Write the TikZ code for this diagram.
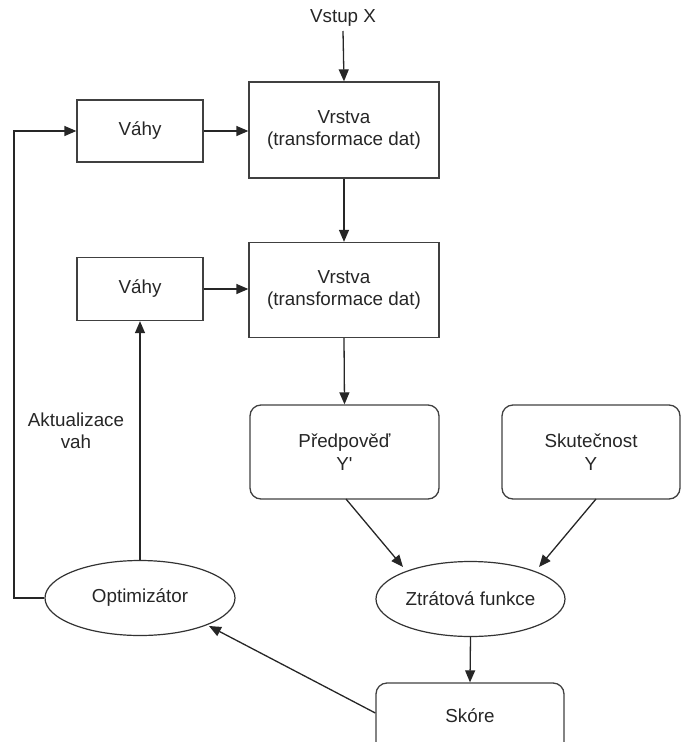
\documentclass[tikz,border=0pt]{standalone}
\usepackage{fontspec}
\setmainfont{Liberation Sans}
\usetikzlibrary{arrows.meta,shapes.geometric}
\begin{document}
\begin{tikzpicture}[x=1pt,y=-1pt,
  every node/.style={font=\fontsize{18.8}{22.5}\selectfont, align=center, text=black!85},
  sq/.style={draw=black!75, line width=1.3pt, rectangle, inner sep=0pt},
  rbox/.style={draw=black!75, line width=1.3pt, rectangle, rounded corners=11pt, inner sep=0pt},
  ell/.style={draw=black!80, line width=1.2pt, ellipse, inner sep=0pt},
  conn/.style={line width=1.3pt, draw=black!85, -{Triangle[length=12pt,width=10pt]}},
  plain/.style={line width=1.3pt, draw=black!85}]
\useasboundingbox (0,0) rectangle (681,742);
\clip (0,0) rectangle (681,742);
\node (in) at (343,18) {Vstup X};
\node[sq, minimum width=190pt, minimum height=96pt] (l1) at (344,130) {Vrstva\\(transformace dat)};
\node[sq, minimum width=126pt, minimum height=62pt] (w1) at (140,131) {Váhy};
\node[sq, minimum width=190pt, minimum height=95pt] (l2) at (344,290) {Vrstva\\(transformace dat)};
\node[sq, minimum width=126pt, minimum height=63pt] (w2) at (140,289) {Váhy};
\node[rbox, minimum width=189pt, minimum height=94pt] (pred) at (344.5,452) {Předpověď\\Y\textquotesingle};
\node[rbox, minimum width=178pt, minimum height=94pt] (real) at (591,452) {Skutečnost\\Y};
\node[ell, minimum width=189pt, minimum height=75pt] (loss) at (470.5,599) {Ztrátová funkce};
\node[ell, minimum width=190pt, minimum height=75pt] (opt) at (140,598) {Optimizátor};
\node[rbox, minimum width=188pt, minimum height=70pt] (score) at (470,718) {};
\node at (470,716) {Skóre};
\node (lbl) at (76,431) {Aktualizace\\vah};
\coordinate (inb) at (343,31);
\coordinate (c1) at (14,598);
\coordinate (c2) at (14,131);
\draw[conn] (inb) -- (l1.north);
\draw[conn] (w1.east) -- (l1.west |- w1.east);
\draw[conn] (l1.south) -- (l2.north);
\draw[conn] (w2.east) -- (l2.west |- w2.east);
\draw[conn] (l2.south) -- (pred.north);
\draw[conn] (346,499) -- (403,567);
\draw[conn] (596,499) -- (539,567);
\draw[conn] (loss.south) -- (score.north);
\draw[conn] (score.west |- 0,713) -- (209,626);
\draw[conn] (opt.north) -- (w2.south);
\draw[conn] (opt.west) -- (c1) -- (c2) -- (w1.west);
\end{tikzpicture}
\end{document}
